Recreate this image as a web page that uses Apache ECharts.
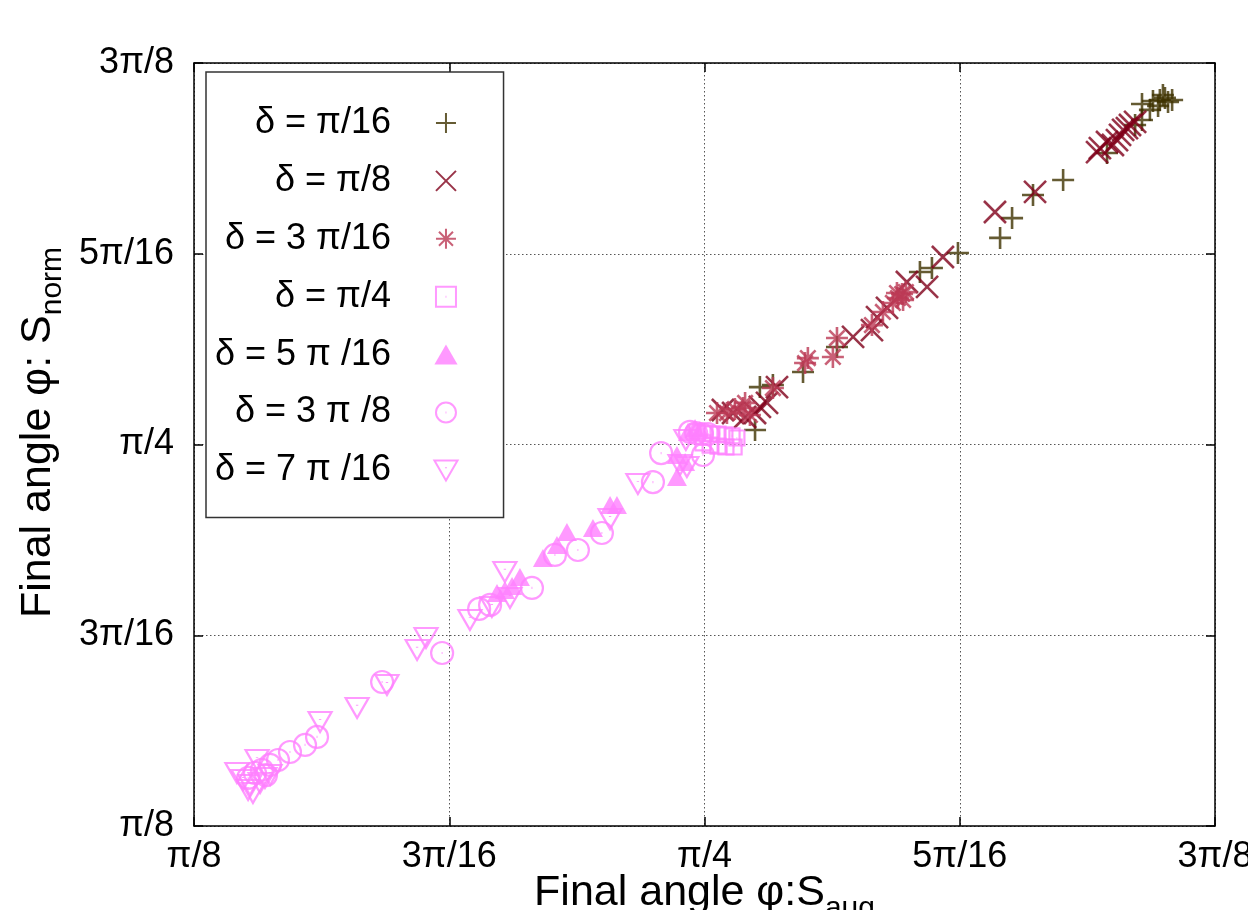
<!DOCTYPE html>
<html>
<head>
<meta charset="utf-8">
<script src="https://cdn.jsdelivr.net/npm/echarts@6/dist/echarts.min.js"></script>
<style>
  html, body { margin: 0; padding: 0; background: #fff; }
  #chartBox { width: 1248px; height: 910px; }
</style>
</head>
<body>
<div id="chartBox"></div>
<script>
  // all angles are in units of pi/16 (2 = pi/8 ... 6 = 3pi/8)
  var tickValues = [2, 3, 4, 5, 6];
  var tickLabels = ['π/8', '3π/16', 'π/4', '5π/16', '3π/8'];

  var seriesNames = ['δ = π/16', 'δ = π/8', 'δ = 3 π/16', 'δ = π/4', 'δ = 5 π /16', 'δ = 3 π /8', 'δ = 7 π /16'];

  // delta = pi/16
  var deltaPi16 = [
    [4.198, 4.076], [4.217, 4.301], [4.268, 4.312], [4.386, 4.380], [4.519, 4.511],
    [4.844, 4.904], [4.891, 4.925], [4.993, 5.004], [5.158, 5.083], [5.205, 5.187],
    [5.287, 5.308], [5.405, 5.387], [5.577, 5.528], [5.714, 5.701], [5.714, 5.785],
    [5.757, 5.801], [5.784, 5.806], [5.804, 5.817], [5.816, 5.796], [5.832, 5.806],
    [5.777, 5.775], [5.745, 5.754], [5.796, 5.832], [5.687, 5.675]
  ];
  // delta = pi/8
  var deltaPi8 = [
    [4.072, 4.181], [4.112, 4.165], [4.159, 4.144], [4.198, 4.165], [4.245, 4.218],
    [4.284, 4.301], [4.217, 4.197], [4.582, 4.564], [4.656, 4.600], [4.676, 4.668],
    [4.715, 4.716], [4.793, 4.852], [4.872, 4.826], [4.934, 4.983], [5.138, 5.219],
    [5.295, 5.324], [5.538, 5.533], [5.549, 5.554], [5.577, 5.586], [5.600, 5.570],
    [5.616, 5.596], [5.628, 5.623], [5.640, 5.649], [5.655, 5.659], [5.667, 5.675],
    [5.687, 5.691]
  ];
  // delta = 3pi/16
  var delta3Pi16 = [
    [4.049, 4.165], [4.088, 4.165], [4.119, 4.186], [4.151, 4.191], [4.159, 4.218],
    [4.178, 4.155], [4.268, 4.296], [4.394, 4.427], [4.405, 4.453], [4.503, 4.459],
    [4.519, 4.558], [4.656, 4.626], [4.699, 4.695], [4.738, 4.742], [4.758, 4.768],
    [4.774, 4.789], [4.789, 4.799], [4.754, 4.794], [4.778, 4.758]
  ];
  // delta = pi/4
  var deltaPi4 = [
    [3.971, 4.066], [4.002, 4.060], [4.029, 4.055], [4.053, 4.055], [4.080, 4.050],
    [4.108, 4.045], [4.127, 4.034], [3.994, 4.008], [4.022, 3.997], [4.053, 3.992],
    [4.084, 3.987], [4.116, 3.987]
  ];
  // delta = 5pi/16
  var delta5Pi16 = [
    [3.187, 3.222], [3.218, 3.237], [3.246, 3.258], [3.277, 3.305], [3.367, 3.405],
    [3.422, 3.473], [3.461, 3.541], [3.563, 3.562], [3.630, 3.683], [3.657, 3.683],
    [3.892, 3.830], [3.892, 3.945], [3.924, 3.908], [3.935, 4.066], [3.963, 4.087],
    [3.982, 4.076]
  ];
  // delta = 3pi/8
  var delta3Pi8 = [
    [2.212, 2.252], [2.239, 2.278], [2.266, 2.294], [2.282, 2.267], [2.298, 2.320],
    [2.329, 2.346], [2.376, 2.388], [2.435, 2.425], [2.482, 2.467], [2.737, 2.755],
    [2.972, 2.907], [3.117, 3.138], [3.160, 3.159], [3.324, 3.248], [3.414, 3.421],
    [3.504, 3.447], [3.598, 3.536], [3.798, 3.803], [3.830, 3.955], [3.994, 3.945],
    [3.943, 4.066], [3.967, 4.060], [3.990, 4.055], [4.014, 4.055]
  ];
  // delta = 7pi/16
  var delta7Pi16 = [
    [2.168, 2.278], [2.192, 2.241], [2.212, 2.189], [2.231, 2.173], [2.247, 2.346],
    [2.219, 2.215], [2.259, 2.225], [2.278, 2.252], [2.298, 2.267], [2.494, 2.545],
    [2.639, 2.619], [2.756, 2.739], [2.874, 2.923], [2.909, 2.986], [3.081, 3.080],
    [3.167, 3.148], [3.218, 3.332], [3.238, 3.195], [3.630, 3.609], [3.739, 3.793],
    [3.904, 3.893], [3.931, 3.882], [3.927, 4.024]
  ];

  var FONT = "'Liberation Sans', Arial, sans-serif";

  // symbols drawn as stroked paths (gnuplot style)
  var SYM_PLUS = 'path://M0,5L10,5M5,0L5,10';
  var SYM_CROSS = 'path://M0,0L10,10M0,10L10,0';
  var SYM_STAR = 'path://M0,5L10,5M5,0L5,10M1.5,1.5L8.5,8.5M1.5,8.5L8.5,1.5';
  var SYM_SQUARE = 'path://M0,0L20,0L20,20L0,20ZM9.6,10L10.4,10';
  var SYM_CIRCLE = 'path://M0,10A10,10,0,1,1,20,10A10,10,0,1,1,0,10ZM9.6,10L10.4,10';
  var SYM_TRIDOWN = 'path://M0,0L20,0L10,17.3ZM10,6L10,6.8';
  var SYM_TRIUP = 'path://M10,0L20,17.3L0,17.3Z';

  function lineSeries(name, data, symbol, size, color, width) {
    return {
      name: name,
      type: 'scatter',
      data: data,
      symbol: symbol,
      symbolSize: size,
      itemStyle: { color: 'transparent', borderColor: color, borderWidth: width },
      emphasis: { disabled: true }
    };
  }

  var chart = echarts.init(document.getElementById('chartBox'));

  var axisLineStyle = { color: '#000', width: 1.5 };
  var tickFmt = function (v) { return tickLabels[tickValues.indexOf(Math.round(v))] || ''; };

  var option = {
    animation: false,
    backgroundColor: '#fff',
    grid: { left: 194, right: 33, top: 63, bottom: 84, outerBoundsMode: 'none', containLabel: false },
    legend: {
      orient: 'vertical',
      left: 206,
      top: 72,
      align: 'right',
      itemWidth: 100,
      itemHeight: 20,
      itemGap: 21.9,
      padding: [33, 45, 29, 9],
      borderColor: '#333',
      borderWidth: 1.5,
      backgroundColor: '#fff',
      selectedMode: false,
      textStyle: { fontSize: 36, color: '#000', fontFamily: FONT },
      data: seriesNames
    },
    xAxis: [{
      type: 'value', min: 2, max: 6, interval: 1,
      axisLine: { show: true, onZero: false, lineStyle: axisLineStyle },
      axisTick: { show: true, inside: true, length: 9, lineStyle: axisLineStyle },
      axisLabel: { margin: 13, fontSize: 36, color: '#000', fontFamily: FONT, formatter: tickFmt },
      splitLine: { show: true, lineStyle: { color: '#555', width: 1, type: [1.5, 2.5] } },
      name: '{a|Final angle φ:S}{b|aug}',
      nameLocation: 'middle',
      nameGap: 46,
      nameMoveOverlap: false,
      nameTextStyle: {
        rich: {
          a: { fontSize: 43, fontFamily: FONT, color: '#000', padding: [0, 0, 9, 0], verticalAlign: 'bottom' },
          b: { fontSize: 30, fontFamily: FONT, color: '#000', verticalAlign: 'bottom' }
        }
      }
    }, {
      type: 'value', min: 2, max: 6, interval: 1, position: 'top',
      axisLine: { show: true, onZero: false, lineStyle: axisLineStyle },
      axisTick: { show: true, inside: true, length: 9, lineStyle: axisLineStyle },
      axisLabel: { show: false },
      splitLine: { show: false }
    }],
    yAxis: [{
      type: 'value', min: 2, max: 6, interval: 1,
      axisLine: { show: true, onZero: false, lineStyle: axisLineStyle },
      axisTick: { show: true, inside: true, length: 9, lineStyle: axisLineStyle },
      axisLabel: { margin: 20, fontSize: 36, color: '#000', fontFamily: FONT, formatter: tickFmt },
      splitLine: { show: true, lineStyle: { color: '#555', width: 1, type: [1.5, 2.5] } },
      name: '{a|Final angle φ: S}{b|norm}',
      nameLocation: 'middle',
      nameGap: 106,
      nameTextStyle: {
        rich: {
          a: { fontSize: 43, fontFamily: FONT, color: '#000', padding: [0, 0, 9, 24], verticalAlign: 'bottom' },
          b: { fontSize: 30, fontFamily: FONT, color: '#000', verticalAlign: 'bottom' }
        }
      }
    }, {
      type: 'value', min: 2, max: 6, interval: 1, position: 'right',
      axisLine: { show: true, onZero: false, lineStyle: axisLineStyle },
      axisTick: { show: true, inside: true, length: 9, lineStyle: axisLineStyle },
      axisLabel: { show: false },
      splitLine: { show: false }
    }],
    series: [
      lineSeries(seriesNames[0], deltaPi16, SYM_PLUS, 22, '#3e3200', 2.6),
      lineSeries(seriesNames[1], deltaPi8, SYM_CROSS, 22, '#80001a', 2.6),
      lineSeries(seriesNames[2], delta3Pi16, SYM_STAR, 22, '#bc3a55', 2.6),
      lineSeries(seriesNames[3], deltaPi4, SYM_SQUARE, 15, '#ff80ff', 2.2),
      {
        name: seriesNames[4], type: 'scatter', data: delta5Pi16,
        symbol: SYM_TRIUP, symbolSize: [20, 18],
        itemStyle: { color: '#ff80ff' },
        emphasis: { disabled: true }
      },
      lineSeries(seriesNames[5], delta3Pi8, SYM_CIRCLE, 22, '#ff80ff', 2.2),
      lineSeries(seriesNames[6], delta7Pi16, SYM_TRIDOWN, [23, 20], '#ff80ff', 2.2)
    ]
  };

  chart.setOption(option);
  window.onresize = chart.resize;
</script>
</body>
</html>
